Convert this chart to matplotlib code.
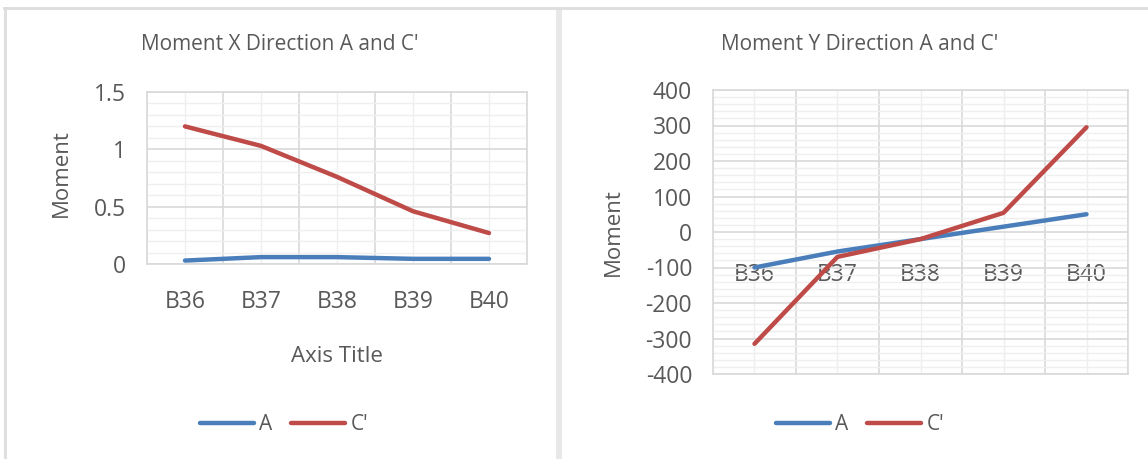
import matplotlib
matplotlib.use("Agg")
import matplotlib.pyplot as plt
from matplotlib.lines import Line2D
from matplotlib.patches import Rectangle
from matplotlib.ticker import MultipleLocator, FixedLocator

categories = ["B36", "B37", "B38", "B39", "B40"]
mx_A = [0.03, 0.06, 0.06, 0.045, 0.045]
mx_C = [1.20, 1.03, 0.76, 0.46, 0.27]
my_A = [-100, -55, -20, 15, 50]
my_C = [-315, -70, -20, 54, 295]

BLUE = "#4a7ebb"
RED = "#be4b48"
TXT = "#595959"
MAJ = "#d9d9d9"
MIN = "#efefef"

plt.rcParams['font.family'] = ['Open Sans', 'DejaVu Sans']
plt.rcParams['axes.unicode_minus'] = False

W, H = 1148, 459
fig = plt.figure(figsize=(W / 100, H / 100), dpi=100)
fig.patch.set_facecolor("white")

TICK_FS = 16.5
LAB_FS = 16
TITLE_FS = 15
LEG_FS = 15


def fx(px):
    return px / W


def fy(py):
    return 1 - py / H


def style_axes(ax):
    x = list(range(len(categories)))
    ax.set_xlim(-0.5, len(categories) - 0.5)
    ax.set_xticks(x)
    ax.set_xticklabels(categories)
    ax.xaxis.set_minor_locator(FixedLocator([i - 0.5 for i in range(len(categories) + 1)]))
    ax.grid(True, which="major", axis="y", color=MAJ, lw=1.2)
    ax.grid(True, which="minor", axis="y", color=MIN, lw=1.0)
    ax.grid(True, which="minor", axis="x", color=MAJ, lw=1.2)
    ax.grid(True, which="major", axis="x", color=MIN, lw=1.0)
    ax.set_axisbelow(True)
    for s in ax.spines.values():
        s.set_color(MAJ)
        s.set_linewidth(1.2)
    ax.tick_params(which="both", length=0, colors=TXT, labelsize=TICK_FS)
    ax.tick_params(axis="y", pad=15)


x = list(range(len(categories)))

# Left chart
ax1 = fig.add_axes([fx(147), fy(264), fx(527) - fx(147), fy(92) - fy(264)])
ax1.plot(x, mx_A, color=BLUE, lw=3.2, solid_capstyle="round", label="A")
ax1.plot(x, mx_C, color=RED, lw=3.2, solid_capstyle="round", label="C'")
ax1.set_ylim(0, 1.5)
ax1.yaxis.set_major_locator(MultipleLocator(0.5))
ax1.yaxis.set_minor_locator(MultipleLocator(0.1))
ax1.set_yticks([0, 0.5, 1, 1.5])
ax1.set_yticklabels(["0", "0.5", "1", "1.5"])
style_axes(ax1)
ax1.tick_params(axis="x", pad=19)
ax1.set_xlabel("Axis Title", color=TXT, fontsize=LAB_FS, labelpad=23)
ax1.set_ylabel("Moment", color=TXT, fontsize=LAB_FS)
ax1.yaxis.set_label_coords(-0.198, 0.53)
fig.text(fx(280), fy(45), "Moment X Direction A and C'", ha="center", va="center",
         color=TXT, fontsize=TITLE_FS)
ax1.legend(loc="center", bbox_to_anchor=(fx(284), fy(425)), bbox_transform=fig.transFigure,
           ncol=2, frameon=False, fontsize=LEG_FS, handlelength=2.6, handletextpad=0.25,
           columnspacing=0.9, labelcolor=TXT)

# Right chart
ax2 = fig.add_axes([fx(713), fy(374), fx(1128) - fx(713), fy(90) - fy(374)])
ax2.plot(x, my_A, color=BLUE, lw=3.2, solid_capstyle="round", label="A")
ax2.plot(x, my_C, color=RED, lw=3.2, solid_capstyle="round", label="C'")
ax2.set_ylim(-400, 400)
ax2.yaxis.set_major_locator(MultipleLocator(100))
ax2.yaxis.set_minor_locator(MultipleLocator(20))
style_axes(ax2)
ax2.spines["bottom"].set_position(("data", 0))
ax2.spines["bottom"].set_visible(False)
ax2.tick_params(axis="x", pad=22)
ax2.plot([-0.5, 4.5], [-400, -400], color=MAJ, lw=1.2, zorder=0.5, clip_on=False)
ax2.set_ylabel("Moment", color=TXT, fontsize=LAB_FS)
ax2.yaxis.set_label_coords(-0.215, 0.5)
fig.text(fx(860), fy(45), "Moment Y Direction A and C'", ha="center", va="center",
         color=TXT, fontsize=TITLE_FS)
ax2.legend(loc="center", bbox_to_anchor=(fx(860), fy(425)), bbox_transform=fig.transFigure,
           ncol=2, frameon=False, fontsize=LEG_FS, handlelength=2.6, handletextpad=0.25,
           columnspacing=0.9, labelcolor=TXT)

# Panel borders
fig.add_artist(Line2D([fx(4), 1], [fy(8), fy(8)], color="#dddddd", lw=2))
fig.add_artist(Line2D([fx(5), fx(5)], [fy(8), 0], color="#dddddd", lw=2))
fig.add_artist(Rectangle((fx(555.5), 0), fx(6), fy(8), color="#e8e8e8", lw=0))

fig.savefig("out.png", dpi=100, facecolor="white")
